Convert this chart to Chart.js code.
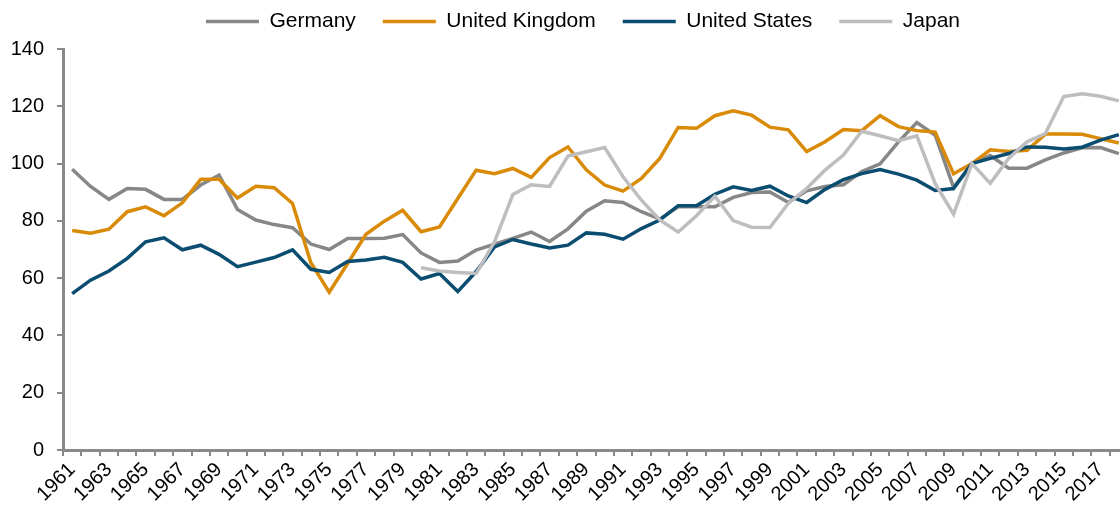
<!DOCTYPE html>
<html>
<head>
<meta charset="utf-8">
<script src="https://cdn.jsdelivr.net/npm/chart.js@4"></script>
<style>
  html, body { margin: 0; padding: 0; background: #fff; overflow: hidden; }
  #wrap { width: 1166px; height: 507px; }
</style>
</head>
<body>
<div id="wrap"><canvas id="chart" width="1166" height="507"></canvas></div>
<script>
// Categories (1961-2018)
const years = ['1961', '1962', '1963', '1964', '1965', '1966', '1967', '1968', '1969', '1970',
    '1971', '1972', '1973', '1974', '1975', '1976', '1977', '1978', '1979', '1980',
    '1981', '1982', '1983', '1984', '1985', '1986', '1987', '1988', '1989', '1990',
    '1991', '1992', '1993', '1994', '1995', '1996', '1997', '1998', '1999', '2000',
    '2001', '2002', '2003', '2004', '2005', '2006', '2007', '2008', '2009', '2010',
    '2011', '2012', '2013', '2014', '2015', '2016', '2017', '2018'];

// Series values (2010 = 100)
const germany = [98.0, 92.0, 87.5, 91.3, 91.0, 87.5, 87.5, 92.5, 96.0, 84.0,
    80.3, 78.7, 77.6, 71.9, 70.0, 73.8, 73.8, 73.9, 75.2, 68.8,
    65.5, 66.0, 69.8, 71.9, 73.9, 76.1, 72.8, 77.2, 83.4, 87.0,
    86.4, 83.2, 80.6, 84.9, 84.9, 84.9, 88.2, 89.9, 90.1, 86.4,
    90.5, 92.0, 92.6, 97.2, 99.9, 107.6, 114.3, 109.9, 91.7, 100.0,
    102.8, 98.4, 98.4, 101.3, 103.7, 105.5, 105.6, 103.5];

const unitedKingdom = [76.6, 75.7, 77.1, 83.2, 84.9, 81.8, 86.3, 94.5, 94.5, 88.0,
    92.1, 91.6, 86.1, 65.4, 55.1, 65.1, 75.3, 79.9, 83.7, 76.2,
    77.9, 87.8, 97.7, 96.5, 98.3, 95.2, 102.1, 105.8, 97.8, 92.5,
    90.4, 94.8, 101.8, 112.6, 112.3, 116.7, 118.4, 116.9, 112.7, 111.8,
    104.2, 107.6, 111.9, 111.5, 116.7, 112.9, 111.5, 111.0, 96.4, 100.0,
    104.8, 104.2, 104.6, 110.3, 110.3, 110.2, 108.7, 107.2];

const unitedStates = [54.6, 59.3, 62.5, 66.9, 72.7, 74.1, 69.9, 71.5, 68.3, 64.0,
    65.6, 67.2, 69.9, 63.1, 62.0, 65.8, 66.3, 67.3, 65.5, 59.7,
    61.6, 55.3, 62.3, 70.9, 73.5, 71.9, 70.5, 71.5, 75.8, 75.3,
    73.6, 77.3, 80.3, 85.3, 85.3, 89.3, 91.9, 90.6, 92.1, 88.7,
    86.4, 91.0, 94.4, 96.5, 97.9, 96.3, 94.2, 90.6, 91.3, 100.0,
    101.8, 103.5, 105.8, 105.7, 105.1, 105.7, 108.2, 110.1];

const japan = [null, null, null, null, null, null, null, null, null, null,
    null, null, null, null, null, null, null, null, null, 63.6,
    62.5, 62.0, 61.6, 72.7, 89.2, 92.6, 92.0, 102.6, 104.1, 105.6,
    95.4, 87.2, 80.3, 76.1, 81.8, 88.6, 80.1, 77.8, 77.7, 86.1,
    91.3, 97.7, 103.0, 111.3, 109.7, 108.0, 109.7, 93.0, 82.3, 100.0,
    93.1, 101.8, 107.6, 110.5, 123.4, 124.4, 123.5, 121.9];

const yTicks = [0, 20, 40, 60, 80, 100, 120, 140];

const axisGrey = '#898989';

Chart.defaults.font.family = "'Liberation Sans', Arial, sans-serif";
Chart.defaults.font.size = 20;
Chart.defaults.color = '#000';

function series(label, data, color, order) {
    return {
        label: label,
        data: data,
        borderColor: color,
        backgroundColor: color,
        borderWidth: 3.5,
        pointRadius: 0,
        pointHoverRadius: 0,
        pointStyle: 'line',
        tension: 0,
        order: order
    };
}

const ctx = document.getElementById('chart').getContext('2d');
new Chart(ctx, {
    type: 'line',
    data: {
        labels: years,
        datasets: [
            series('Germany', germany, '#878787', 4),
            series('United Kingdom', unitedKingdom, '#D98A06', 3),
            series('United States', unitedStates, '#0B4D71', 2),
            series('Japan', japan, '#BEBEC0', 1)
        ]
    },
    options: {
        responsive: false,
        animation: false,
        layout: { padding: { top: -16, left: 0, right: 0, bottom: 0 } },
        plugins: {
            legend: {
                position: 'top',
                labels: {
                    usePointStyle: true,
                    pointStyle: 'line',
                    pointStyleWidth: 53,
                    padding: 27,
                    color: '#000',
                    font: { size: 21 },
                    sort: (a, b) => a.datasetIndex - b.datasetIndex
                }
            },
            tooltip: { enabled: false }
        },
        scales: {
            x: {
                type: 'category',
                offset: true,
                grid: {
                    offset: true,
                    drawOnChartArea: false,
                    color: axisGrey,
                    lineWidth: 2,
                    tickLength: 6
                },
                border: { color: axisGrey, width: 3 },
                ticks: {
                    autoSkip: false,
                    minRotation: 45,
                    maxRotation: 45,
                    padding: 2,
                    color: '#000',
                    font: { size: 20 },
                    callback: function (value, index) {
                        return index % 2 === 0 ? years[index] : '';
                    }
                },
                afterFit: s => { s.height = 57; }
            },
            xTop: {
                type: 'linear',
                position: 'top',
                display: true,
                grid: { display: false },
                border: { display: false },
                ticks: { display: false },
                afterFit: s => { s.height = 7; }
            },
            y: {
                min: 0,
                max: 140,
                afterBuildTicks: s => { s.ticks = yTicks.map(v => ({ value: v })); },
                grid: {
                    drawOnChartArea: false,
                    color: axisGrey,
                    lineWidth: 2,
                    tickLength: 6
                },
                border: { color: axisGrey, width: 3 },
                ticks: {
                    padding: 13,
                    color: '#000',
                    font: { size: 20 }
                },
                afterFit: s => { s.width = 63; }
            },
            yPad: {
                type: 'linear',
                position: 'right',
                display: true,
                grid: { display: false },
                border: { display: false },
                ticks: { display: false },
                afterFit: s => { s.width = 38; }
            }
        }
    }
});
</script>
</body>
</html>
